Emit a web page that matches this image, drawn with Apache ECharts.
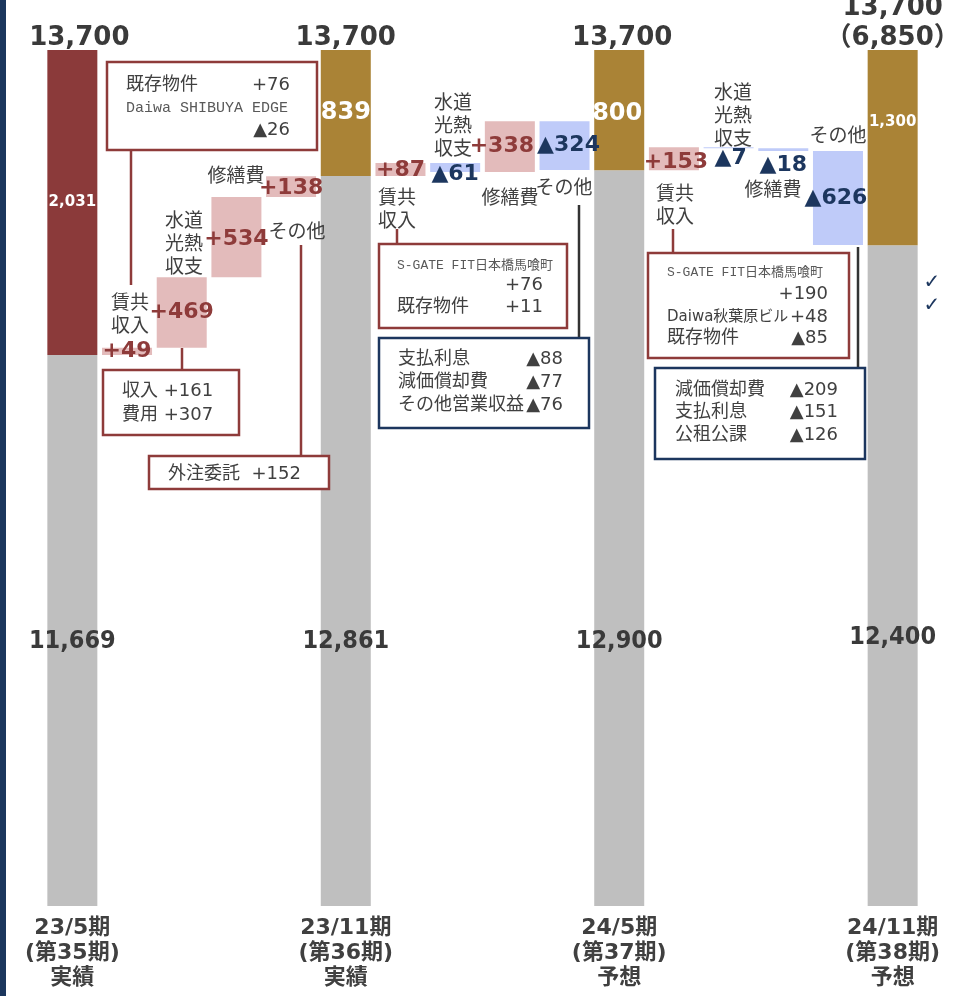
<!DOCTYPE html>
<html><head><meta charset="utf-8">
<script src="https://cdn.jsdelivr.net/npm/echarts@6/dist/echarts.min.js"></script>
<style>html,body{margin:0;padding:0;background:#fff;}#c{width:960px;height:996px;}</style>
</head><body><div id="c"></div>
<script>
// ---- data ----
const periods = ['23/5期\n(第35期)\n実績', '23/11期\n(第36期)\n実績', '24/5期\n(第37期)\n予想', '24/11期\n(第38期)\n予想'];
const totals = [13700, 13700, 13700, 13700];
const totalLabels = ['13,700', '13,700', '13,700', '13,700\n（6,850）'];
const grayValues = [11669, 12861, 12900, 12400];
const topValues = [2031, 839, 800, 1300];
const stepNames = ['賃共\n収入', '水道\n光熱\n収支', '修繕費', 'その他'];
const steps1 = [49, 469, 534, 138];
const steps2 = [87, -61, 338, -324];
const steps3 = [153, -7, -18, -626];

const noteA = [['既存物件', '+76'], ['Daiwa SHIBUYA EDGE', ''], ['', '▲26']];
const noteB = [['収入 +161', ''], ['費用 +307', '']];
const noteC = [['外注委託  +152', '']];
const noteD = [['S-GATE FIT日本橋馬喰町', ''], ['', '+76'], ['既存物件', '+11']];
const noteE = [['支払利息', '▲88'], ['減価償却費', '▲77'], ['その他営業収益', '▲76']];
const noteF = [['S-GATE FIT日本橋馬喰町', ''], ['', '+190'], ['Daiwa秋葉原ビル', '+48'], ['既存物件', '▲85']];
const noteG = [['減価償却費', '▲209'], ['支払利息', '▲151'], ['公租公課', '▲126']];

// ---- build waterfall ----
const allSteps = [steps1, steps2, steps3];
const cats = [], baseArr = [], grayArr = [], topArr = [], upArr = [], downArr = [], totArr = [];
const mainIdx = [];
periods.forEach((p, i) => {
  mainIdx.push(cats.length);
  cats.push(p); baseArr.push(0); grayArr.push(grayValues[i]); topArr.push(topValues[i]); upArr.push('-'); downArr.push('-'); totArr.push(totals[i]);
  if (i < 3) {
    let level = grayValues[i];
    allSteps[i].forEach((s, k) => {
      cats.push(stepNames[k].replace(/\n/g, ''));
      grayArr.push('-'); topArr.push('-'); totArr.push('-');
      if (s >= 0) { baseArr.push(level); upArr.push(s); downArr.push('-'); level += s; }
      else { level += s; baseArr.push(level); downArr.push(-s); upArr.push('-'); }
    });
  }
});

const RED = '#8E3B3A', NAVY = '#1C365E', GOLD = '#AA8336', TXT = '#404040';
const CJK = '"Noto Sans CJK JP", sans-serif';
const MIX = '"DejaVu Sans", "Noto Sans CJK JP", sans-serif';
const NUMF = '"DejaVu Sans", "Noto Sans CJK JP", sans-serif';

// per-index label tweaks (style only)
const stepLabelOffset = {1:[0,0],2:[0,0],3:[0,2],4:[0,2],6:[0,1],7:[0,7],8:[-8,0],9:[4,0],11:[2,4],12:[2,11],13:[0,16],14:[-2,0]};
const grayDist = [252, 252, 252, 256];
const topLabelCfg = [{fontSize:15, offset:[0,0]}, {fontSize:24, offset:[0,0]}, {fontSize:24, offset:[-2,4]}, {fontSize:15, offset:[0,-26]}];
const totOffset = [[7,0],[0,0],[3,0],[0,0]];

const grayData = grayArr.map((v, i) => {
  const m = mainIdx.indexOf(i);
  if (m < 0) return v;
  return {value: v, label: {show: true, position: 'insideBottom', distance: grayDist[m]}};
});
const topData = topArr.map((v, i) => {
  const m = mainIdx.indexOf(i);
  if (m < 0) return v;
  return {value: v, itemStyle: {color: m === 0 ? '#8B3A3A' : GOLD},
    label: {show: true, position: 'inside', fontSize: topLabelCfg[m].fontSize, offset: topLabelCfg[m].offset}};
});
const totData = totArr.map((v, i) => {
  const m = mainIdx.indexOf(i);
  if (m < 0) return v;
  return {value: v, label: {offset: totOffset[m], formatter: totalLabels[m], color: '#3A3A3A'}};
});
const stepData = (arr) => arr.map((v, i) => v === '-' ? v : {value: v, label: {offset: stepLabelOffset[i] || [0,0]}});

// ---- annotations ----
const graphics = [];
graphics.push({type:'rect', shape:{x:0,y:0,width:6,height:996}, style:{fill:'#1B365D'}, z:100});
function line(x1,y1,x2,y2,c){ graphics.push({type:'line', shape:{x1,y1,x2,y2}, style:{stroke:c, lineWidth:2.5}, z:100}); }
function text(x,y,t,font,fill,align){ graphics.push({type:'text', x, y, style:{text:t, font, fill, align, verticalAlign:'middle', textAlign:align, textVerticalAlign:'middle'}, z:102}); }
function note(rows, c){
  graphics.push({type:'rect', shape:{x:c.x,y:c.y,width:c.w,height:c.h}, style:{fill:'#fff', stroke:c.color, lineWidth:2.5}, z:101});
  rows.forEach((r, k) => {
    const f = (c.fonts && c.fonts[k]) || ('18px ' + MIX);
    const fill = (c.fills && c.fills[k]) || TXT;
    if (r[0]) text(c.lx, c.ys[k], r[0], f, fill, 'left');
    if (r[1]) text(c.rx, c.ys[k], r[1], '18px ' + MIX, TXT, 'right');
  });
}
const MONO15 = '15px "Liberation Mono", "Noto Sans CJK JP", monospace';
const MONO13 = '13px "Liberation Mono", "Noto Sans CJK JP", monospace';
line(131,150,131,285,RED); line(182,348,182,370,RED); line(301,245,301,456,RED);
line(397,229,397,244,RED); line(579,205,579,338,'#333'); line(673,229,673,253,RED); line(858,247,858,368,'#333');
note(noteA, {x:107,y:62,w:210,h:88,color:RED,lx:126,rx:290,ys:[85,108,130], fonts:[null, MONO15, null], fills:[null,'#595959',null]});
note(noteB, {x:103,y:370,w:136,h:65,color:RED,lx:122,rx:0,ys:[391,415]});
note(noteC, {x:149,y:456,w:180,h:33,color:RED,lx:168,rx:0,ys:[474]});
note(noteD, {x:379,y:244,w:188,h:84,color:RED,lx:397,rx:543,ys:[266,285,307], fonts:[MONO13,null,null], fills:['#595959',null,null]});
note(noteE, {x:379,y:338,w:210,h:90,color:NAVY,lx:398,rx:563,ys:[359,382,405]});
note(noteF, {x:648,y:253,w:201,h:105,color:RED,lx:667,rx:828,ys:[273,294,317,338], fonts:[MONO13,null,'15px '+MIX,null], fills:['#595959',null,null,null]});
note(noteG, {x:655,y:368,w:210,h:91,color:NAVY,lx:675,rx:838,ys:[390,412,435]});

// step name labels
const namePos = [[130,302],[184,220],[236,175],[297,231],[397,197],[453,102],[510,197],[564,187],[675,193],[733,92],[773,189],[838,135]];
namePos.forEach((p, k) => {
  const t = stepNames[k % 4];
  graphics.push({type:'text', x:p[0], y:p[1] - 11.5, style:{text:t, font:'19px ' + CJK, fill:TXT, align:'center', verticalAlign:'top', textAlign:'center', textVerticalAlign:'top', lineHeight:23}, z:50});
});
text(932, 283, '✓', '20px "DejaVu Sans"', NAVY, 'center');
text(932, 306, '✓', '20px "DejaVu Sans"', NAVY, 'center');

const chart = echarts.init(document.getElementById('c'));
chart.setOption({
  animation: false,
  backgroundColor: '#fff',
  grid: {left: 45, right: 40, top: 50, bottom: 90},
  xAxis: {type: 'category', data: cats, axisLine: {show: false}, axisTick: {show: false},
    axisLabel: {interval: 0, margin: 10, color: TXT, fontWeight: 'bold', fontSize: 22, lineHeight: 25, fontFamily: NUMF,
      formatter: (v, i) => mainIdx.indexOf(i) >= 0 ? v : ''}},
  yAxis: {type: 'value', min: 8000, max: 13700, show: false, splitLine: {show: false}},
  series: [
    {name: 'base', type: 'bar', stack: 'w', barWidth: 50, data: baseArr, itemStyle: {color: 'transparent'}, silent: true},
    {name: 'gray', type: 'bar', stack: 'w', barWidth: 50, data: grayData, itemStyle: {color: '#BFBFBF'},
      label: {show: false, color: '#3A3A3A', fontWeight: 'bold', fontSize: 25, fontFamily: '"DejaVu Sans Condensed", "DejaVu Sans", sans-serif',
        formatter: p => p.value.toLocaleString('en-US')}},
    {name: 'top', type: 'bar', stack: 'w', barWidth: 50, data: topData,
      label: {show: false, color: '#fff', fontWeight: 'bold', fontFamily: NUMF, formatter: p => p.value.toLocaleString('en-US')}},
    {name: 'up', type: 'bar', stack: 'w', barWidth: 50, data: stepData(upArr), itemStyle: {color: '#E3BBBB'},
      label: {show: true, position: 'inside', color: RED, fontWeight: 'bold', fontSize: 22, fontFamily: NUMF, formatter: p => '+' + p.value}},
    {name: 'down', type: 'bar', stack: 'w', barWidth: 50, data: stepData(downArr), itemStyle: {color: '#BFCBF9'},
      label: {show: true, position: 'inside', color: NAVY, fontWeight: 'bold', fontSize: 22, fontFamily: NUMF, formatter: p => '▲' + p.value}},
    {name: 'total', type: 'scatter', symbolSize: 0, data: totData, z: 10, itemStyle: {opacity: 1},
      label: {show: true, position: 'top', distance: -3, color: '#3A3A3A', fontWeight: 'bold', fontSize: 26, lineHeight: 30, fontFamily: NUMF}}
  ],
  graphic: graphics
});
</script></body></html>
